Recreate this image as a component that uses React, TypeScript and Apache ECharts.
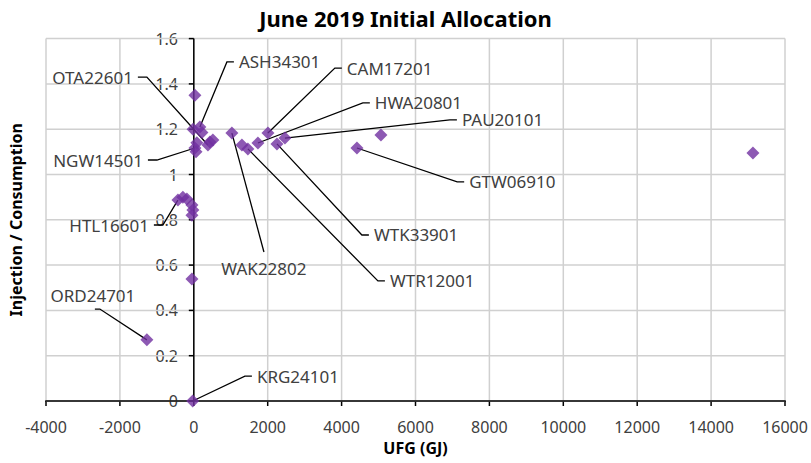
import React, { useEffect, useRef } from 'react';
import * as echarts from 'echarts';

// Axis ranges and ticks
const xMin = -4000;
const xMax = 16000;
const xStep = 2000;
const yMin = 0;
const yMax = 1.6;
const yStep = 0.2;
const xTickValues = [-4000, -2000, 0, 2000, 4000, 6000, 8000, 10000, 12000, 14000, 16000];
const yTickValues = [0, 0.2, 0.4, 0.6, 0.8, 1, 1.2, 1.4, 1.6];

// Scatter points (UFG GJ, Injection/Consumption)
const pointsX = [30, 165, -20, 220, 84, 30, 60, 436, 517, 382, 1031, 1302, 1464, 1735, 2006, 2250, 2466, 4415, 5065, 15133, -430, -295, -187, -50, -25, -50, -50, -1270, -30];
const pointsY = [1.35, 1.21, 1.2, 1.185, 1.14, 1.117, 1.1, 1.143, 1.152, 1.13, 1.183, 1.13, 1.113, 1.139, 1.183, 1.135, 1.161, 1.117, 1.174, 1.095, 0.887, 0.9, 0.892, 0.865, 0.843, 0.82, 0.539, 0.27, 0];

// Data labels with leader lines
const labelNames = ['ASH34301', 'OTA22601', 'NGW14501', 'HTL16601', 'ORD24701', 'KRG24101', 'CAM17201', 'HWA20801', 'PAU20101', 'GTW06910', 'WTK33901', 'WTR12001', 'WAK22802'];
const labelPointX = [165, 382, 30, -430, -1270, -30, 2006, 1735, 2466, 4415, 2250, 1464, 1031];
const labelPointY = [1.21, 1.13, 1.117, 0.887, 0.27, 0, 1.183, 1.139, 1.161, 1.117, 1.135, 1.113, 1.183];
const labelElbowX = [896, -1270, -998, -837, -2542, 1383, 3817, 4575, 6931, 7128, 4549, 4983, 1898];
const labelElbowY = [1.497, 1.43, 1.064, 0.777, 0.406, 0.11, 1.47, 1.316, 1.241, 0.967, 0.733, 0.53, 0.658];
const labelSide = ['right', 'left', 'left', 'left', 'top', 'right', 'right', 'right', 'right', 'right', 'right', 'right', 'bottom'];

const FONT = 'Noto Sans';
const TEXT = '#404040';
const GRID = '#d0d0d0';

export default function App() {
  const ref = useRef<HTMLDivElement>(null);
  useEffect(() => {
    document.body.style.margin = '0';
    const chart = echarts.init(ref.current!, null, { renderer: 'svg' });
    const scatterData = pointsX.map((x, i) => [x, pointsY[i]]);
    const annData = labelNames.map((_, i) => [labelPointX[i], labelPointY[i], labelElbowX[i], labelElbowY[i]]);
    const vData = xTickValues.map((v) => [v, yMin]);
    const hData = yTickValues.map((v) => [0, v]);
    chart.setOption({
      animation: false,
      title: {
        text: 'June 2019 Initial Allocation',
        left: 'center',
        top: 2,
        textStyle: { fontFamily: FONT, fontSize: 22, fontWeight: 'bold', color: '#000' },
      },
      grid: { left: 46, right: 26, top: 38.6, bottom: 62, containLabel: false, outerBoundsMode: 'none' },
      xAxis: {
        type: 'value',
        min: xMin,
        max: xMax,
        interval: xStep,
        name: 'UFG (GJ)',
        nameLocation: 'middle',
        nameGap: 39,
        nameTextStyle: { fontFamily: FONT, fontSize: 16, fontWeight: 'bold', color: '#000' },
        axisLine: { show: false, onZero: false },
        axisTick: { show: false },
        axisLabel: { margin: 18, fontFamily: FONT, fontSize: 16, color: TEXT, formatter: (v: number) => String(v) },
        splitLine: { show: false },
      },
      yAxis: {
        type: 'value',
        min: yMin,
        max: yMax,
        interval: yStep,
        position: 'left',
        name: 'Injection / Consumption',
        nameLocation: 'middle',
        nameRotate: 90,
        nameGap: 22,
        nameTextStyle: { fontFamily: FONT, fontSize: 16, fontWeight: 'bold', color: '#000' },
        axisLine: { show: false, onZero: false },
        axisTick: { show: false },
        axisLabel: { margin: -132, fontFamily: FONT, fontSize: 16, color: TEXT, formatter: (v: number) => String(Math.round(v * 10) / 10) },
        splitLine: { show: false },
      },
      series: [
        {
          // vertical gridlines with x-axis ticks (filled thin rects)
          type: 'custom',
          z: 2,
          clip: false,
          silent: true,
          data: vData,
          encode: { x: 0, y: 1 },
          renderItem: (params: any, api: any) => {
            const v = api.value(0);
            const b = api.coord([v, yMin]);
            const t = api.coord([v, yMax]);
            return {
              type: 'group',
              children: [
                { type: 'rect', shape: { x: b[0] - 0.75, y: t[1], width: 1.5, height: b[1] - t[1] }, style: { fill: GRID } },
                { type: 'rect', shape: { x: b[0] - 0.75, y: b[1], width: 1.5, height: 5 }, style: { fill: '#000' } },
              ],
            };
          },
        },
        {
          // horizontal gridlines (filled thin rects)
          type: 'custom',
          z: 2,
          clip: false,
          silent: true,
          data: hData,
          encode: { x: 0, y: 1 },
          renderItem: (params: any, api: any) => {
            const v = api.value(1);
            const l = api.coord([xMin, v]);
            const r = api.coord([xMax, v]);
            return { type: 'rect', shape: { x: l[0], y: l[1] - 0.75, width: r[0] - l[0], height: 1.5 }, style: { fill: GRID } };
          },
        },
        {
          // axis lines at y = 0 and UFG = 0, with y ticks
          type: 'custom',
          z: 3,
          clip: false,
          silent: true,
          data: hData,
          encode: { x: 0, y: 1 },
          renderItem: (params: any, api: any) => {
            const c = api.coord([0, api.value(1)]);
            const children: any[] = [
              { type: 'rect', shape: { x: c[0] - 5, y: c[1] - 0.75, width: 5, height: 1.5 }, style: { fill: '#000' } },
            ];
            if (params.dataIndex === 0) {
              const top = api.coord([0, yMax]);
              const l = api.coord([xMin, yMin]);
              const r = api.coord([xMax, yMin]);
              children.push({ type: 'rect', shape: { x: c[0] - 0.75, y: top[1], width: 1.5, height: c[1] - top[1] }, style: { fill: '#000' } });
              children.push({ type: 'rect', shape: { x: l[0] - 0.75, y: l[1] - 0.75, width: r[0] - l[0] + 1.5, height: 1.5 }, style: { fill: '#000' } });
            }
            return { type: 'group', children };
          },
        },
        {
          type: 'custom',
          z: 4,
          clip: false,
          silent: true,
          data: annData,
          encode: { x: [0, 2], y: [1, 3] },
          renderItem: (params: any, api: any) => {
            const i = params.dataIndex;
            const p = api.coord([api.value(0), api.value(1)]);
            const e = api.coord([api.value(2), api.value(3)]);
            const side = labelSide[i];
            let s = e;
            let tx = e[0];
            let ty = e[1];
            let align = 'left';
            let valign = 'middle';
            if (side === 'right') {
              s = [e[0] + 7, e[1]];
              tx = s[0] + 5;
              align = 'left';
            } else if (side === 'left') {
              s = [e[0] - 9, e[1]];
              tx = s[0] - 5;
              align = 'right';
            } else if (side === 'top') {
              s = [e[0] - 5, e[1]];
              tx = s[0] - 2;
              ty = e[1] - 5;
              align = 'center';
              valign = 'bottom';
            } else {
              s = e;
              tx = e[0];
              ty = e[1] + 8;
              align = 'center';
              valign = 'top';
            }
            return {
              type: 'group',
              children: [
                {
                  type: 'polyline',
                  shape: { points: [p, e, s] },
                  style: { stroke: '#000', lineWidth: 1.3, fill: null },
                },
                {
                  type: 'text',
                  style: {
                    text: labelNames[i],
                    x: tx,
                    y: ty,
                    align,
                    verticalAlign: valign,
                    fontFamily: FONT,
                    fontSize: 17,
                    fill: TEXT,
                  },
                },
              ],
            };
          },
        },
        {
          type: 'scatter',
          z: 5,
          symbol: 'diamond',
          symbolSize: 13,
          itemStyle: { color: '#7030A0' },
          data: scatterData,
        },
      ],
    });
    return () => chart.dispose();
  }, []);
  return <div ref={ref} style={{ position: 'absolute', left: 0, top: 0, width: 811, height: 463 }} />;
}
